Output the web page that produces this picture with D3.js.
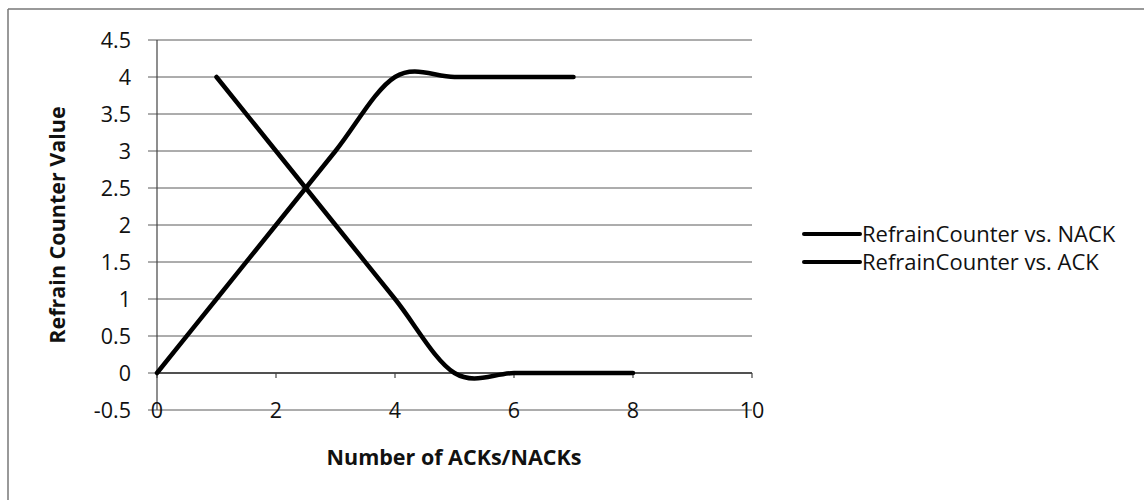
<!DOCTYPE html>
<html><head><meta charset="utf-8">
<script src="https://cdn.jsdelivr.net/npm/d3@7"></script>
<style>
html,body{margin:0;padding:0;background:#fff;}
svg{display:block;font-family:"Open Sans",Lato,sans-serif;}
</style></head>
<body>
<svg id="chart" width="1144" height="500"></svg>
<script>
// ---- data ----
const nackX = [0, 1, 2, 3, 4, 5, 6, 7];
const nackY = [0, 1, 2, 3, 4, 4, 4, 4];
const ackX = [1, 2, 3, 4, 5, 6, 7, 8];
const ackY = [4, 3, 2, 1, 0, 0, 0, 0];
const seriesNames = ["RefrainCounter vs. NACK", "RefrainCounter vs. ACK"];
const yTicks = [-0.5, 0, 0.5, 1, 1.5, 2, 2.5, 3, 3.5, 4, 4.5];
const xTicks = [0, 2, 4, 6, 8, 10];
const yTitle = "Refrain Counter Value";
const xTitle = "Number of ACKs/NACKs";

const svg = d3.select("#chart");
const x = d3.scaleLinear().domain([0, 10]).range([157, 752]);
const y = d3.scaleLinear().domain([-0.5, 4.5]).range([410, 40]);

// outer border (top & left visible)
svg.append("line").attr("x1", 8).attr("x2", 1144).attr("y1", 9).attr("y2", 9)
  .attr("stroke", "#777").attr("stroke-width", 1.5);
svg.append("line").attr("x1", 8).attr("x2", 8).attr("y1", 9).attr("y2", 500)
  .attr("stroke", "#777").attr("stroke-width", 1.5);

// gridlines + y tick marks
const grid = svg.append("g");
yTicks.forEach(t => {
  grid.append("line").attr("x1", x(0) - 9).attr("x2", x(10))
    .attr("y1", y(t)).attr("y2", y(t))
    .attr("stroke", "#5a5a5a").attr("stroke-width", 1);
});

// y axis line
svg.append("line").attr("x1", x(0)).attr("x2", x(0)).attr("y1", y(4.5)).attr("y2", y(-0.5))
  .attr("stroke", "#444").attr("stroke-width", 1.2);
// x axis line at y=0
svg.append("line").attr("x1", x(0)).attr("x2", x(10)).attr("y1", y(0)).attr("y2", y(0))
  .attr("stroke", "#333").attr("stroke-width", 1.3);
// x tick marks
xTicks.forEach(t => {
  svg.append("line").attr("x1", x(t)).attr("x2", x(t)).attr("y1", y(0)).attr("y2", y(0) + 5)
    .attr("stroke", "#444").attr("stroke-width", 1.2);
});

// y tick labels
svg.append("g").selectAll("text").data(yTicks).join("text")
  .attr("x", 131).attr("y", d => y(d)).attr("dy", "0.36em")
  .attr("text-anchor", "end").attr("font-size", 21.5).attr("fill", "#111")
  .text(d => d);

// x tick labels (low position)
svg.append("g").selectAll("text").data(xTicks).join("text")
  .attr("x", d => x(d)).attr("y", y(-0.5)).attr("dy", "0.36em")
  .attr("text-anchor", "middle").attr("font-size", 21.5).attr("fill", "#111")
  .text(d => d);

// titles
svg.append("text").attr("transform", `translate(57,${(y(4.5)+y(-0.5))/2}) rotate(-90)`)
  .attr("text-anchor", "middle").attr("dy", "0.35em").attr("font-size", 21.5).attr("font-weight", "bold")
  .attr("fill", "#111").text(yTitle);
svg.append("text").attr("x", 454).attr("y", 457).attr("dy", "0.35em")
  .attr("text-anchor", "middle").attr("font-size", 21.5).attr("font-weight", "bold")
  .attr("fill", "#111").text(xTitle);

// series
const line = d3.line().x(d => x(d[0])).y(d => y(d[1])).curve(d3.curveCardinal.tension(0));
const series = [d3.zip(nackX, nackY), d3.zip(ackX, ackY)];
svg.append("g").selectAll("path").data(series).join("path")
  .attr("d", line).attr("fill", "none").attr("stroke", "#000")
  .attr("stroke-width", 4.5).attr("stroke-linecap", "round").attr("stroke-linejoin", "round");

// legend
const lg = svg.append("g");
seriesNames.forEach((n, i) => {
  const ly = 234 + i * 28;
  lg.append("line").attr("x1", 804).attr("x2", 860).attr("y1", ly).attr("y2", ly)
    .attr("stroke", "#000").attr("stroke-width", 4).attr("stroke-linecap", "round");
  lg.append("text").attr("x", 862).attr("y", ly).attr("dy", "0.36em")
    .attr("font-size", 22).attr("fill", "#111").text(n);
});
</script>
</body></html>
